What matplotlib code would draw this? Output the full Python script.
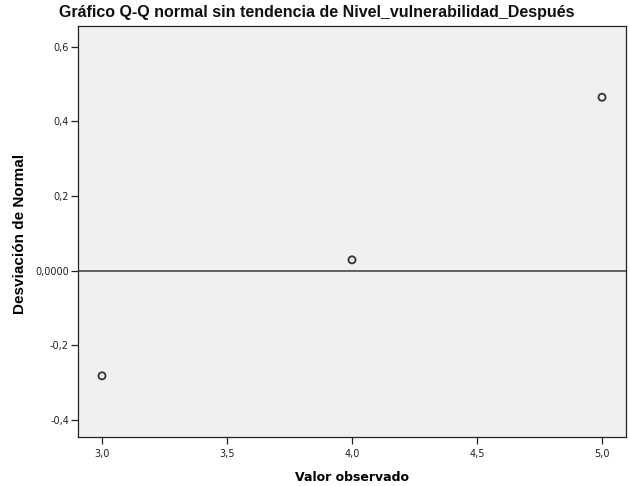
import numpy as np
import matplotlib
matplotlib.use("Agg")
import matplotlib.pyplot as plt

# valores observados y desviación respecto a la normal
valor_observado = [3.0, 4.0, 5.0]
desviacion = [-0.282, 0.029, 0.465]

xticks = [3.0, 3.5, 4.0, 4.5, 5.0]
xticklabels = ['3,0', '3,5', '4,0', '4,5', '5,0']
yticks = [-0.4, -0.2, 0.0, 0.2, 0.4, 0.6]
yticklabels = ['-0,4', '-0,2', '0,0000', '0,2', '0,4', '0,6']

plt.rcParams['font.family'] = ['Liberation Sans', 'DejaVu Sans']

fig = plt.figure(figsize=(6.3, 4.86), dpi=100)
ax = fig.add_axes([0.1238, 0.1008, 0.8699, 0.8457])
ax.set_facecolor('#f0f0f0')

ax.axhline(0, color='#555555', lw=1.3, zorder=1)
ax.scatter(valor_observado, desviacion, s=26, facecolors='none',
           edgecolors='#333333', linewidths=1.3, zorder=3)

ax.set_xlim(2.904, 5.096)
ax.set_ylim(-0.446, 0.656)
ax.set_xticks(xticks)
ax.set_xticklabels(xticklabels, family='DejaVu Sans')
ax.set_yticks(yticks)
ax.set_yticklabels(yticklabels, family='DejaVu Sans')
ax.tick_params(labelsize=7, length=5, width=0.9, color='#222222', labelcolor='#222222')
ax.tick_params(axis='y', pad=1.5)
for s in ax.spines.values():
    s.set_color('#222222')
    s.set_linewidth(0.9)

ax.set_xlabel('Valor observado', fontsize=9, fontweight='bold',
              family='DejaVu Sans', labelpad=9)
ax.set_ylabel('Desviación de Normal', fontsize=11, fontweight='bold')
ax.yaxis.set_label_coords(-0.093, 0.495)
fig.text(0.502, 0.975, 'Gráfico Q-Q normal sin tendencia de Nivel_vulnerabilidad_Después',
         ha='center', va='center', fontsize=11.5, fontweight='bold', color='#111111')

fig.savefig('out.png', dpi=100)
